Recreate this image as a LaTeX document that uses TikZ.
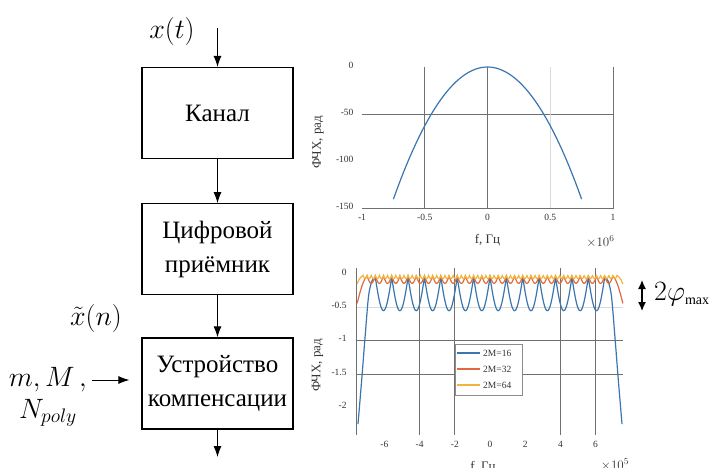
\RequirePackage{fix-cm}
\documentclass[tikz,border=0pt]{standalone}
\usepackage{fontspec}
\setmainfont{Liberation Serif}
\usetikzlibrary{arrows.meta,positioning}
\definecolor{mblue}{HTML}{3A75AE}
\definecolor{mred}{HTML}{E06A3E}
\definecolor{myellow}{HTML}{F2B440}
\definecolor{gridd}{HTML}{707070}
\definecolor{gridl}{HTML}{DADADA}

\begin{document}
\begin{tikzpicture}[x=1pt, y=-1pt,
    block/.style={draw, line width=1.2pt, minimum width=151pt, minimum height=91pt, inner sep=3pt, align=center, font=\fontsize{25}{34}\selectfont},
    flow/.style={-{Latex[length=11pt, width=8pt]}, line width=0.9pt},
    sig/.style={font=\fontsize{28}{30}\selectfont},
    tick/.style={font=\fontsize{9.5}{10}\selectfont, text=black!80},
    axlbl/.style={font=\fontsize{13}{14}\selectfont, text=black!80},
    grd/.style={gridd, line width=0.8pt},
    legtxt/.style={font=\fontsize{9.5}{10}\selectfont, text=black!80, anchor=west, inner sep=1pt}]
  \useasboundingbox (0,0) rectangle (717,467);

  % Block chain
  \node[block] (chan) at (217.5,113) {Канал};
  \node[block, below=44pt of chan] (rcv) {Цифровой\\приёмник};
  \node[block, below=42pt of rcv] (comp) {Устройство\\компенсации};
  \coordinate (in) at (217.5,28);
  \coordinate (out) at (217.5,457);
  \draw[flow] (in) -- (chan);
  \draw[flow] (chan) -- (rcv);
  \draw[flow] (rcv) -- (comp);
  \draw[flow] (comp) -- (out);

  % Signals and parameters
  \node[sig] (xt) at (172,31) {$x(t)$};
  \node[sig] (xn) at (96,318) {$\tilde{x}(n)$};
  \node[sig, anchor=east, inner sep=1pt] (mM) at (88,380) {$m,M\,,$};
  \node[sig, inner sep=1pt] (np) at (48,413) {$N_{poly}$};
  \draw[flow, shorten <=4pt, shorten >=12pt] (mM.east) -- (mM.east -| comp.west);

  % Top plot
  \begin{scope}[shift={(487.5,67)}, x=125.5pt, y=0.94pt]
    \draw[grd] (-1,-150) -- (1,-150) -- (1,0);
    \draw[grd] (-1,-50) -- (1,-50);
    \draw[grd] (-0.5,0) -- (-0.5,-150);
    \draw[grd] (0,0) -- (0,-150);
    \draw[gridl, line width=0.8pt] (0.5,0) -- (0.5,-150);
    \draw[mblue, line width=1.2pt] plot[domain=-0.75:0.75, samples=61] (\x, {-250*\x*\x});
    \foreach \v [count=\i] in {0,-50,-100,-150}
      \node[tick, anchor=east, yshift=2pt] (ty\i) at (-1.04,\v) {\v};
    \foreach \v [count=\i] in {-1,-0.5,0,0.5,1}
      \node[tick] (tx\i) at (\v,-160) {\v};
    \node[axlbl] (tfx) at (0,-184) {f, Гц};
    \node[axlbl] (tex) at (0.9,-186) {$\times10^{6}$};
    \node[axlbl, rotate=90] (tfy) at (-1.35,-80) {ФЧХ, рад};
  \end{scope}

  % Bottom plot
  \begin{scope}[shift={(490,274)}, x=17.6pt, y=66.7pt]
    \draw[gridl, line width=0.8pt] (-7.6,-0.5) -- (7.55,-0.5);
    \foreach \g in {-1,-1.5} \draw[grd] (-7.6,\g) -- (7.55,\g);
    \foreach \g in {-4,-2,4,6} \draw[grd] (\g,0.09) -- (\g,-2.42);
    \draw[grd] (-7.6,0.09) -- (-7.6,-2.42);
    % 2M=16
    \draw[mblue, line width=1.2pt] plot[smooth] coordinates {(-7.5,-2.25) (-7.3,-1.62) (-7.1,-0.95) (-6.9,-0.33) (-6.7,-0.1) (-6.517,-0.05)}
      -- plot[domain=-6.517:6.517, samples=561] (\x, {-0.05-0.5*abs(sin(180*\x/0.931))})
      -- plot[smooth] coordinates {(6.517,-0.05) (6.7,-0.1) (6.9,-0.33) (7.1,-0.95) (7.3,-1.62) (7.5,-2.25)};
    % 2M=32
    \draw[mred, line width=1.2pt] plot[smooth] coordinates {(-7.55,-0.44) (-7.4,-0.29) (-7.25,-0.16) (-7.1,-0.07) (-6.983,-0.03)}
      -- plot[domain=-6.983:6.983, samples=601] (\x, {-0.03-0.11*abs(sin(180*\x/0.4655))})
      -- plot[smooth] coordinates {(6.983,-0.03) (7.1,-0.07) (7.25,-0.16) (7.4,-0.29) (7.55,-0.44)};
    % 2M=64
    \draw[myellow, line width=1.2pt] plot[smooth] coordinates {(-7.55,-0.15) (-7.45,-0.09) (-7.35,-0.05) (-7.215,-0.02)}
      -- plot[domain=-7.215:7.215, samples=993] (\x, {-0.02-0.05*abs(sin(180*\x/0.23275))})
      -- plot[smooth] coordinates {(7.215,-0.02) (7.35,-0.05) (7.45,-0.09) (7.55,-0.15)};
    \foreach \v [count=\i] in {0,-0.5,-1,-1.5,-2}
      \node[tick, anchor=east, yshift=2pt] (by\i) at (-7.95,\v) {\v};
    \foreach \v [count=\i] in {-6,-4,-2,0,2,4,6}
      \node[tick] (bx\i) at (\v,-2.56) {\v};
    \node[axlbl, anchor=north] (bfx) at (-0.4,-2.76) {f, Гц};
    \node[axlbl, anchor=north] (bex) at (7.1,-2.72) {$\times10^{5}$};
    \node[axlbl, rotate=90] (bfy) at (-9.8,-1.37) {ФЧХ, рад};
  \end{scope}

  % Legend
  \node[draw=black!45, fill=white, line width=0.6pt, minimum width=67pt, minimum height=51pt] (leg) at (488.5,369.5) {};
  \foreach \c/\t [count=\i] in {mblue/16, mred/32, myellow/64} {
    \draw[\c, line width=1.4pt] (457,337+16*\i) -- (480,337+16*\i);
    \node[legtxt] (leg\i) at (482,337+16*\i) {2M=\t};
  }

  % Phase ripple
  \coordinate (pa) at (642,280);
  \coordinate (pb) at (642,311);
  \draw[{Latex[length=9pt,width=8pt]}-{Latex[length=9pt,width=8pt]}, line width=1.3pt] (pa) -- (pb);
  \node[anchor=west, font=\fontsize{28}{30}\selectfont, inner sep=0pt] (phi) at (654,294) {$2\varphi_{\scriptscriptstyle\max}$};
\end{tikzpicture}
\end{document}
